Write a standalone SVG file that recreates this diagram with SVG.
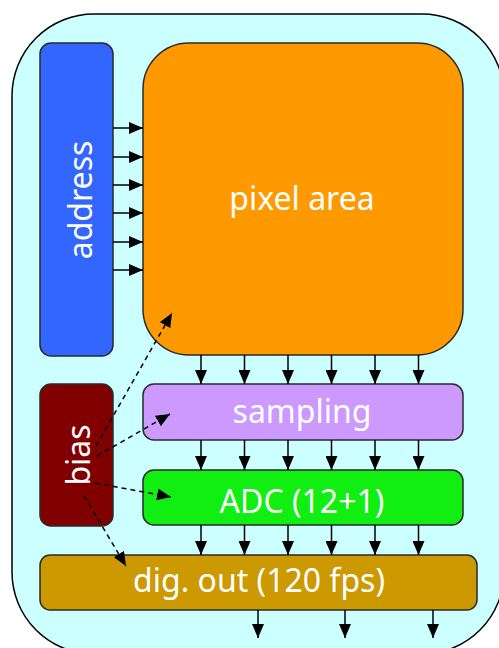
<svg xmlns="http://www.w3.org/2000/svg" width="499" height="648" viewBox="0 0 499 648">
<style>
.box{stroke:#2a2a2a;stroke-width:1.5}
.lbl{font-family:"Noto Sans","DejaVu Sans",sans-serif;fill:#ffffff;font-size:32px;text-anchor:middle}
.sol line{stroke:#000;stroke-width:1.5;marker-end:url(#ah)}
.dsh line{stroke:#000;stroke-width:1.5;stroke-dasharray:5,4;marker-end:url(#ah)}
</style>
<defs>
<marker id="ah" viewBox="0 0 14 12" refX="14" refY="6" markerWidth="14" markerHeight="12" markerUnits="userSpaceOnUse" orient="auto">
<path d="M0,0 L14,6 L0,12 Z" fill="#000"/>
</marker>
</defs>
<rect width="499" height="648" fill="#ffffff"/>
<g id="frame"><rect x="12" y="14" width="492" height="640" rx="82" fill="#ccffff" stroke="#000" stroke-width="1.5"/></g>
<g id="address"><rect class="box" x="40" y="43" width="73" height="313" rx="11" fill="#3366ff"/>
<text class="lbl" transform="translate(92,200) rotate(-90)" font-size="34">address</text></g>
<g id="pixel"><rect class="box" x="143" y="43" width="320" height="312" rx="46" fill="#ff9900"/>
<text class="lbl" x="302" y="210" font-size="34">pixel area</text></g>
<g id="bias"><rect class="box" x="40" y="384" width="73" height="142" rx="11" fill="#800000"/>
<text class="lbl" transform="translate(90,455) rotate(-90)">bias</text></g>
<g id="sampling"><rect class="box" x="143" y="384" width="320" height="56" rx="11" fill="#cc99ff"/>
<text class="lbl" x="302" y="423">sampling</text></g>
<g id="adc"><rect class="box" x="143" y="470" width="320" height="55" rx="11" fill="#11ee11"/>
<text class="lbl" x="302" y="513" font-size="33">ADC (12+1)</text></g>
<g id="digout"><rect class="box" x="40" y="555" width="437" height="55" rx="10" fill="#cc9900"/>
<text class="lbl" x="259" y="592" font-size="35">dig. out (120 fps)</text></g>
<g id="connectors">
<g class="sol">
<line x1="113" y1="128" x2="143" y2="128"/><line x1="113" y1="157" x2="143" y2="157"/><line x1="113" y1="185" x2="143" y2="185"/>
<line x1="113" y1="213" x2="143" y2="213"/><line x1="113" y1="242" x2="143" y2="242"/><line x1="113" y1="270" x2="143" y2="270"/>
<line x1="201" y1="355" x2="201" y2="384"/><line x1="244.5" y1="355" x2="244.5" y2="384"/><line x1="288" y1="355" x2="288" y2="384"/>
<line x1="331.5" y1="355" x2="331.5" y2="384"/><line x1="375" y1="355" x2="375" y2="384"/><line x1="418.5" y1="355" x2="418.5" y2="384"/>
<line x1="201" y1="440" x2="201" y2="470"/><line x1="244.5" y1="440" x2="244.5" y2="470"/><line x1="288" y1="440" x2="288" y2="470"/>
<line x1="331.5" y1="440" x2="331.5" y2="470"/><line x1="375" y1="440" x2="375" y2="470"/><line x1="418.5" y1="440" x2="418.5" y2="470"/>
<line x1="201" y1="525" x2="201" y2="555"/><line x1="244.5" y1="525" x2="244.5" y2="555"/><line x1="288" y1="525" x2="288" y2="555"/>
<line x1="331.5" y1="525" x2="331.5" y2="555"/><line x1="375" y1="525" x2="375" y2="555"/><line x1="418.5" y1="525" x2="418.5" y2="555"/>
<line x1="258" y1="610" x2="258" y2="638"/><line x1="345" y1="610" x2="345" y2="638"/><line x1="433" y1="610" x2="433" y2="638"/>
</g>
<g class="dsh">
<line x1="96" y1="446" x2="172" y2="313"/>
<line x1="97" y1="456" x2="170" y2="414"/>
<line x1="95" y1="483" x2="171" y2="497"/>
<line x1="84" y1="496" x2="126" y2="566"/>
</g>
</g>
</svg>
